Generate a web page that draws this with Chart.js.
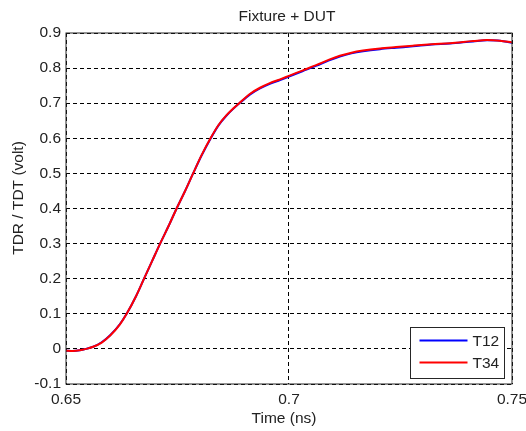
<!DOCTYPE html>
<html>
<head>
<meta charset="utf-8">
<script src="https://cdn.jsdelivr.net/npm/chart.js@4"></script>
<style>
  html, body { margin: 0; padding: 0; background: #fff; }
  #wrap { width: 526px; height: 431px; }
</style>
</head>
<body>
<div id="wrap"><canvas id="tdr" width="526" height="431"></canvas></div>
<script>
// time axis (ns) and measured step responses (volt)
const tempos = [0.6500, 0.6515, 0.6531, 0.6545, 0.6561, 0.6580, 0.6599, 0.6621, 0.6636, 0.6657,
  0.6675, 0.6693, 0.6711, 0.6730, 0.6748, 0.6767, 0.6785, 0.6804, 0.6824, 0.6842,
  0.6860, 0.6875, 0.6890, 0.6913, 0.6935, 0.6957, 0.6980, 0.7000, 0.7030, 0.7062,
  0.7090, 0.7114, 0.7140, 0.7166, 0.7204, 0.7240, 0.7278, 0.7320, 0.7361, 0.7413,
  0.7444, 0.7473, 0.7500];
const t12 = [-0.005, -0.006, -0.004, 0.000, 0.006, 0.019, 0.039, 0.071, 0.100, 0.150,
  0.200, 0.250, 0.300, 0.350, 0.400, 0.450, 0.500, 0.551, 0.599, 0.637,
  0.665, 0.684, 0.701, 0.725, 0.742, 0.755, 0.766, 0.776, 0.791, 0.807,
  0.822, 0.833, 0.842, 0.848, 0.854, 0.858, 0.862, 0.867, 0.870, 0.876,
  0.879, 0.878, 0.872];
const t34 = [-0.005, -0.006, -0.004, 0.000, 0.006, 0.018, 0.038, 0.070, 0.100, 0.150,
  0.200, 0.250, 0.300, 0.350, 0.400, 0.450, 0.500, 0.552, 0.600, 0.638,
  0.666, 0.685, 0.702, 0.727, 0.744, 0.757, 0.768, 0.778, 0.793, 0.809,
  0.824, 0.835, 0.844, 0.850, 0.856, 0.860, 0.864, 0.868, 0.871, 0.877,
  0.880, 0.878, 0.873];
const nomes = ['T12', 'T34'];
const cores = ['#0000ff', '#ff0000'];

const fonte = '"Liberation Sans", Arial, sans-serif';
const corTexto = '#222';
const fmt = v => String(Number(v.toFixed(3)));

const pontos = serie => tempos.map((t, i) => ({ x: t, y: serie[i] }));

// no extra room for tick labels that stick out past the plot edges
const semSobra = s => { s.paddingLeft = 0; s.paddingRight = 0; s.paddingTop = 0; s.paddingBottom = 0; };

// box, title, axis titles and legend in MATLAB style
const molduraPlugin = {
  id: 'moldura',
  afterDraw(chart) {
    const { ctx, chartArea: a } = chart;
    ctx.save();
    ctx.strokeStyle = '#262626';
    ctx.lineWidth = 1;
    ctx.strokeRect(a.left, a.top, a.right - a.left, a.bottom - a.top);

    ctx.fillStyle = corTexto;
    ctx.font = '15.5px ' + fonte;
    ctx.textAlign = 'center';
    ctx.textBaseline = 'alphabetic';
    ctx.fillText('Fixture + DUT', 287, 21);
    ctx.fillText('Time (ns)', 284, 423);

    ctx.save();
    ctx.translate(23, 198);
    ctx.rotate(-Math.PI / 2);
    ctx.fillText('TDR / TDT (volt)', 0, 0);
    ctx.restore();

    // legend
    const lx = 410.5, ly = 327.5, lw = 94, lh = 51;
    ctx.fillStyle = '#fff';
    ctx.fillRect(lx, ly, lw, lh);
    ctx.strokeStyle = '#262626';
    ctx.strokeRect(lx, ly, lw, lh);
    ctx.lineWidth = 2;
    ctx.textAlign = 'left';
    ctx.textBaseline = 'middle';
    nomes.forEach((n, i) => {
      const y = ly + 13 + i * 22;
      ctx.strokeStyle = cores[i];
      ctx.beginPath();
      ctx.moveTo(lx + 9, y);
      ctx.lineTo(lx + 57, y);
      ctx.stroke();
      ctx.fillStyle = corTexto;
      ctx.fillText(n, lx + 62, y + 1);
    });
    ctx.restore();
  }
};

new Chart(document.getElementById('tdr'), {
  type: 'line',
  data: {
    datasets: nomes.map((n, i) => ({
      label: n,
      data: pontos(i === 0 ? t12 : t34),
      borderColor: cores[i],
      backgroundColor: cores[i],
      borderWidth: 2,
      pointRadius: 0,
      cubicInterpolationMode: 'monotone',
      fill: false,
      order: 2 - i   // T34 drawn over T12
    }))
  },
  options: {
    responsive: false,
    animation: false,
    layout: { padding: { top: 33, right: 14, left: 0, bottom: 0 } },
    plugins: { legend: { display: false }, title: { display: false }, tooltip: { enabled: false } },
    scales: {
      x: {
        type: 'linear',
        min: 0.65,
        max: 0.75,
        afterFit: s => { s.height = 47; semSobra(s); },
        afterBuildTicks: s => { s.ticks = [0.65, 0.7, 0.75].map(v => ({ value: v })); },
        ticks: { color: corTexto, font: { family: fonte, size: 15.5 }, padding: 6, maxRotation: 0, autoSkip: false, callback: fmt },
        grid: { color: '#000', lineWidth: 1, drawTicks: false },
        border: { display: false, dash: [4, 3] }
      },
      y: {
        min: -0.1,
        max: 0.9,
        afterFit: s => { s.width = 66; semSobra(s); },
        ticks: { stepSize: 0.1, color: corTexto, font: { family: fonte, size: 15.5 }, padding: 5, callback: fmt },
        grid: { color: '#000', lineWidth: 1, drawTicks: false },
        border: { display: false, dash: [4, 3] }
      }
    }
  },
  plugins: [molduraPlugin]
});
</script>
</body>
</html>
